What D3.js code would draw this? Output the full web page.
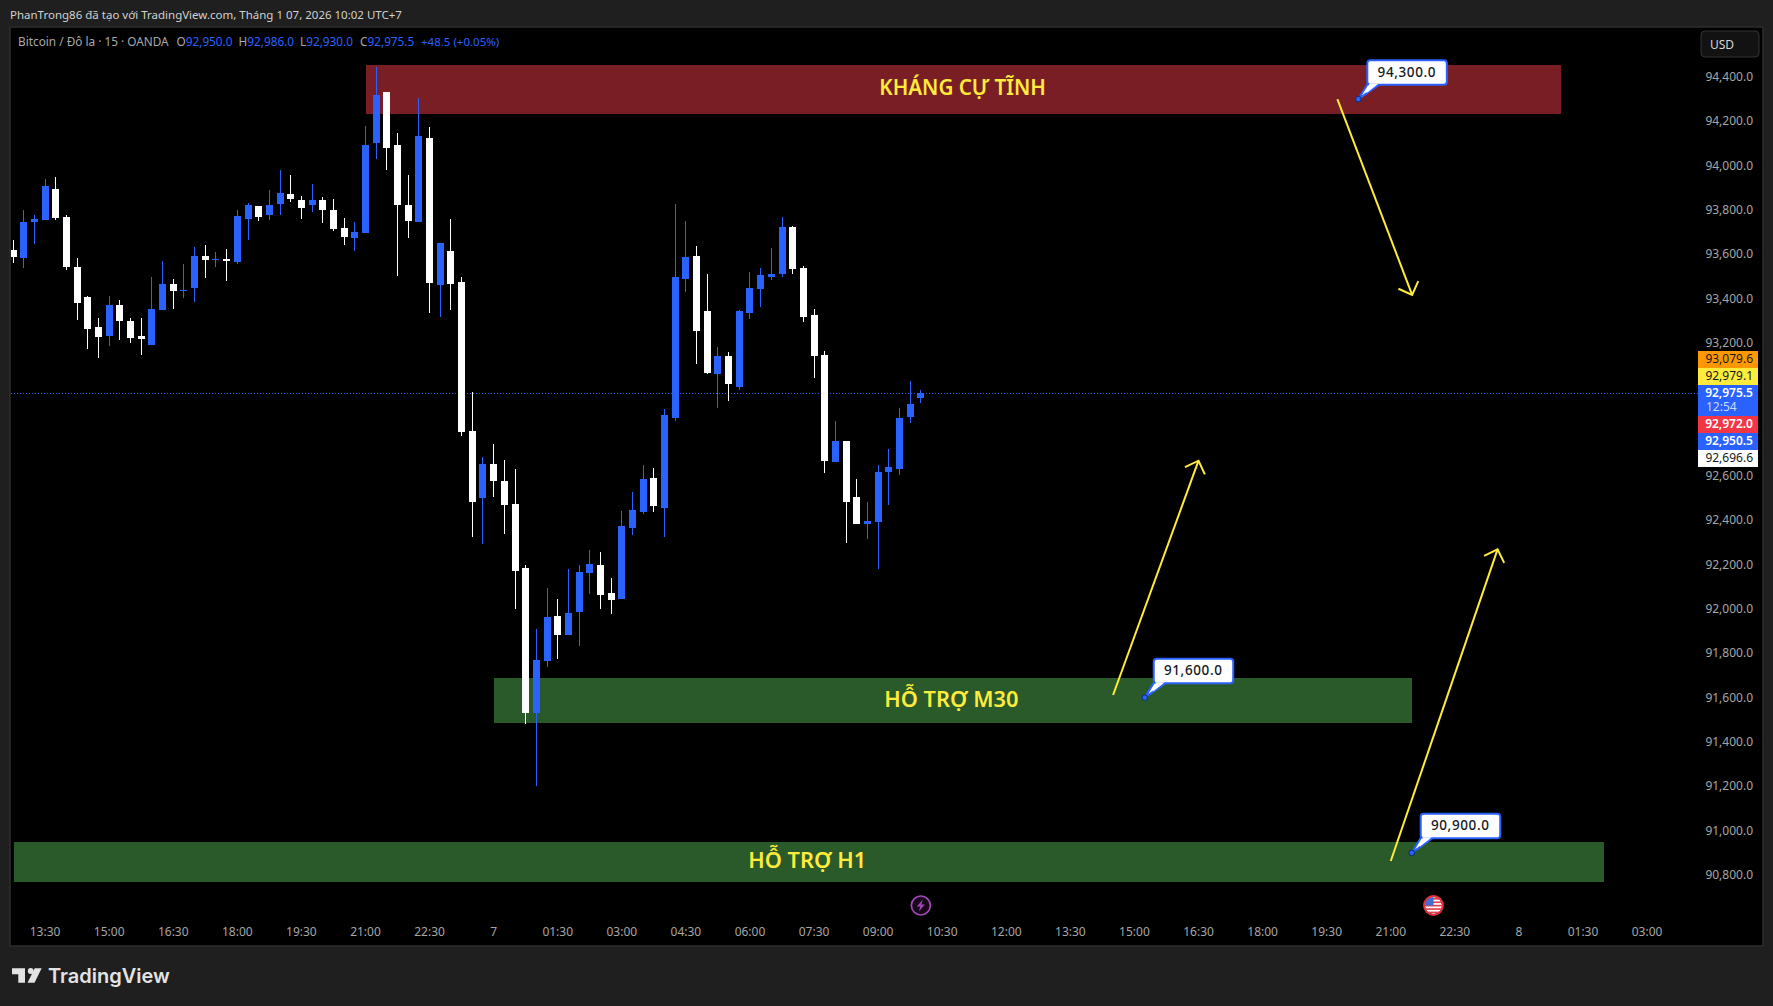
<!DOCTYPE html>
<html>
<head>
<meta charset="utf-8">
<title>Bitcoin / Đô la</title>
<script src="https://cdn.jsdelivr.net/npm/d3@7"></script>
<style>
  html, body { margin: 0; padding: 0; background: #1f1f1f; }
  svg { display: block; }
  text { font-family: "Noto Sans", sans-serif; }
</style>
</head>
<body>
<div id="graphs"></div>
<script>
// 15 minute candles, from 12:45 (index 0) to 10:00 next day (index 85)
var opens = [93620,93583,93746,93755,93895,93769,93543,93408,93272,93232,93372,93299,93232,93191,93349,93466,93435,93448,93593,93576,
  93579,93565,93759,93818,93778,93827,93872,93845,93823,93845,93800,93719,93674,93696,94102,94332,94093,93823,93746,94125,
  93462,93615,93475,92803,92501,92654,92578,92474,92185,91531,91766,91968,91883,91987,92162,92199,92072,92045,92365,92438,
  92591,92456,92862,93489,93593,93344,93060,93141,93002,93335,93444,93498,93511,93723,93538,93326,93146,92663,92758,92505,
  92384,92393,92618,92632,92866,92950];
var highs = [93665,93800,93778,93940,93949,93778,93583,93412,93313,93412,93394,93313,93313,93498,93570,93489,93556,93633,93642,93611,
  93624,93800,93832,93818,93890,93980,93958,93863,93917,93859,93850,93764,93746,94179,94445,94332,94147,93958,94305,94174,
  93651,93759,93498,92980,92686,92744,92672,92632,92199,91910,92095,92045,92180,92199,92266,92257,92140,92442,92528,92650,
  92636,92902,93827,93750,93638,93511,93182,93160,93349,93520,93538,93629,93769,93728,93548,93353,93164,92848,92758,92587,
  92483,92650,92722,92907,93029,92986];
var lows = [93561,93538,93647,93755,93755,93529,93304,93173,93132,93187,93214,93200,93146,93191,93349,93353,93403,93385,93493,93543,
  93480,93556,93665,93750,93755,93778,93836,93759,93791,93741,93705,93642,93615,93696,94030,93980,93502,93674,93746,93335,
  93317,93349,92780,92325,92293,92505,92338,92000,91481,91202,91738,91774,91883,91833,92068,92000,91978,92045,92334,92429,
  92438,92325,92848,93430,93105,93060,92907,92938,92988,93308,93362,93484,93498,93511,93295,93042,92614,92663,92298,92384,
  92316,92181,92469,92605,92839,92930];
var closes = [93588,93746,93759,93908,93764,93543,93381,93263,93227,93372,93299,93223,93218,93353,93466,93435,93439,93593,93575,93579,
  93570,93773,93823,93769,93823,93877,93850,93809,93845,93800,93714,93678,93701,94093,94319,94080,93823,93750,94134,93471,
  93651,93466,92799,92483,92654,92578,92469,92171,91531,91770,91964,91883,91982,92167,92203,92063,92041,92375,92447,92587,
  92465,92875,93498,93588,93254,93065,93141,93015,93344,93448,93507,93511,93723,93534,93317,93141,92668,92758,92483,92384,
  92397,92618,92641,92862,92925,92975.5];

var priceTicks = [94400,94200,94000,93800,93600,93400,93200,92600,92400,92200,92000,91800,91600,91400,91200,91000,90800];
var timeTickBars = [3,9,15,21,27,33,39,45,51,57,63,69,75,81,87,93,99,105,111,117,123,129,135,141,147,153];
var timeTickLabels = ["13:30","15:00","16:30","18:00","19:30","21:00","22:30","7","01:30","03:00","04:30","06:00","07:30",
  "09:00","10:30","12:00","13:30","15:00","16:30","18:00","19:30","21:00","22:30","8","01:30","03:00"];

// zones: label, first bar, last bar, top price, bottom price
var zoneLabels = ["KHÁNG CỰ TĨNH","HỖ TRỢ M30","HỖ TRỢ H1"];
var zoneBars = [[33,145],[45,131],[0,149]];
var zonePrices = [[94454,94233],[91689,91486],[90949,90769]];

var noteBars = [126,106,131];
var notePrices = [94300,91600,90900];

// arrows: [bar, price] start and tip
var arrowStarts = [[124,94300],[103,91612],[129,90863]];
var arrowTips = [[131,93417],[111,92669],[139,92269]];

var tagLabels = ["93,079.6","92,979.1","92,975.5","92,972.0","92,950.5","92,696.6"];
var lastPrice = 92975.5;

var width = 1773, height = 1006;
var blue = "#2962ff", yellow = "#ffeb3b";

var x = d3.scaleLinear().domain([0,1]).range([13.05,23.73]);
var y = d3.scaleLinear().domain([94400,90800]).range([77,875]);

var svg = d3.select("#graphs").append("svg")
  .attr("width", width).attr("height", height);

svg.append("rect").attr("width", width).attr("height", height).attr("fill", "#1f1f1f");

// chart frame
svg.append("rect")
  .attr("x", 10).attr("y", 27).attr("width", 1753).attr("height", 919)
  .attr("fill", "#000").attr("stroke", "#2e2e2e").attr("stroke-width", 1.5);

svg.append("defs").append("clipPath").attr("id", "pane")
  .append("rect").attr("x", 11).attr("y", 28).attr("width", 1751).attr("height", 917);

var pane = svg.append("g").attr("clip-path", "url(#pane)");

// zones
var zones = pane.selectAll(".zone").data(zoneLabels).enter().append("g").attr("class", "zone");
zones.append("rect")
  .attr("x", (d, i) => Math.floor(x(zoneBars[i][0])) + 1)
  .attr("y", (d, i) => Math.round(y(zonePrices[i][0])))
  .attr("width", (d, i) => Math.floor(x(zoneBars[i][1])) - Math.floor(x(zoneBars[i][0])) - 1)
  .attr("height", (d, i) => Math.round(y(zonePrices[i][1])) - Math.round(y(zonePrices[i][0])))
  .attr("fill", (d, i) => i == 0 ? "#7a1e26" : "#2a5a2a");

// current price line
pane.append("line")
  .attr("x1", 11).attr("x2", 1698)
  .attr("y1", Math.round(y(lastPrice)) + 0.5).attr("y2", Math.round(y(lastPrice)) + 0.5)
  .attr("stroke", blue).attr("stroke-width", 1).attr("stroke-dasharray", "1 2");

// candles
var candles = pane.selectAll(".candle").data(opens).enter().append("g").attr("class", "candle")
  .attr("fill", (d, i) => closes[i] >= opens[i] ? blue : "#fff");
candles.append("rect")
  .attr("x", (d, i) => Math.floor(x(i)))
  .attr("width", 1)
  .attr("y", (d, i) => Math.round(y(highs[i])))
  .attr("height", (d, i) => Math.round(y(lows[i])) - Math.round(y(highs[i])));
candles.append("rect")
  .attr("x", (d, i) => Math.floor(x(i)) - 3)
  .attr("width", 7)
  .attr("y", (d, i) => Math.round(y(Math.max(opens[i], closes[i]))))
  .attr("height", (d, i) => Math.max(1, Math.round(y(Math.min(opens[i], closes[i]))) - Math.round(y(Math.max(opens[i], closes[i])))));

// zone titles above the candles
var zoneFontSizes = [20.6, 21.8, 21.8];
zones.append("text")
  .attr("x", (d, i) => (x(zoneBars[i][0]) + x(zoneBars[i][1])) / 2 - (i == 0 ? 1 : 1.5))
  .attr("y", (d, i) => (y(zonePrices[i][0]) + y(zonePrices[i][1])) / 2 + (i == 0 ? 5.5 : 6.5))
  .attr("text-anchor", "middle")
  .attr("fill", yellow)
  .style("font-size", (d, i) => zoneFontSizes[i] + "px").style("font-weight", 600)
  .text(d => d);

// arrows
arrowStarts.forEach(function (s, i) {
  var t = arrowTips[i];
  var x0 = x(s[0]), y0 = y(s[1]), x1 = x(t[0]), y1 = y(t[1]);
  var ang = Math.atan2(y0 - y1, x0 - x1), len = 15;
  var head = [ang - Math.PI / 4, ang + Math.PI / 4].map(a => [x1 + len * Math.cos(a), y1 + len * Math.sin(a)]);
  var g = pane.append("g").attr("fill", "none").attr("stroke", yellow).attr("stroke-width", 2);
  g.append("path").attr("d", d3.line()([[x0, y0], [x1, y1]]));
  g.append("path").attr("d", d3.line()([head[0], [x1, y1], head[1]]));
});

// price notes
var notes = pane.selectAll(".note").data(notePrices).enter().append("g").attr("class", "note")
  .attr("transform", (d, i) => "translate(" + (x(noteBars[i]) - 0.4) + "," + y(d) + ")");
notes.append("path")
  .attr("d", "M0,0L9.5,-15.5L22,-15.5Z").attr("fill", "#fff").attr("stroke", blue).attr("stroke-width", 2);
notes.append("rect")
  .attr("x", 9).attr("y", -39).attr("width", 79.5).attr("height", 24.5).attr("rx", 3)
  .attr("fill", "#fff").attr("stroke", blue).attr("stroke-width", 2);
notes.append("path").attr("d", "M11,-15.5L20,-15.5L8,-6Z").attr("fill", "#fff");
notes.append("circle").attr("r", 2.8).attr("fill", blue).attr("stroke", "#0c2a66").attr("stroke-width", 1);
notes.append("text")
  .attr("x", 48.5).attr("y", -22.5).attr("text-anchor", "middle")
  .attr("fill", "#131722").style("font-size", "13.5px").style("font-weight", 500).style("letter-spacing", "0.6px")
  .text(d => d3.format(",.1f")(d));

// event icons
var bolt = pane.append("g").attr("transform", "translate(" + x(85) + ",905.5)");
bolt.append("circle").attr("r", 9.5).attr("fill", "#16081a").attr("stroke", "#a347b8").attr("stroke-width", 1.7);
bolt.append("path").attr("d", "M2,-6L-4,1L-0.5,1L-2,6L4,-1L0.5,-1Z").attr("fill", "#a347b8");

svg.select("defs").append("clipPath").attr("id", "flagclip").append("circle").attr("r", 8.5);
var flag = pane.append("g").attr("transform", "translate(" + x(133) + ",905.5)");
var flagIn = flag.append("g").attr("clip-path", "url(#flagclip)");
flagIn.append("rect").attr("x", -10).attr("y", -10).attr("width", 20).attr("height", 20).attr("fill", "#fff");
d3.range(5).forEach(function (k) {
  flagIn.append("rect").attr("x", -10).attr("y", -7.5 + k * 3.4).attr("width", 20).attr("height", 1.7).attr("fill", "#e8404f");
});
flagIn.append("rect").attr("x", -10).attr("y", -10).attr("width", 10).attr("height", 10).attr("fill", "#3d6fd8");
flag.append("circle").attr("r", 9.5).attr("fill", "none").attr("stroke", "#e8303f").attr("stroke-width", 1.8);

// axes
var axisColor = "#a6a6a6";
var yAxis = d3.axisRight(y).tickValues(priceTicks).tickSize(0).offset(0).tickFormat(d3.format(",.1f"));
var gy = svg.append("g").attr("transform", "translate(1753,0)").call(yAxis);
gy.select(".domain").remove();
gy.selectAll("text").attr("x", 0).attr("text-anchor", "end").attr("fill", axisColor)
  .style("font-size", "12px").style("font-family", "'Noto Sans'");

var xAxis = d3.axisBottom(x).tickValues(timeTickBars).tickSize(0).offset(0).tickFormat((d, i) => timeTickLabels[i]);
var gx = svg.append("g").attr("transform", "translate(0,927)").call(xAxis);
gx.select(".domain").remove();
gx.selectAll("text").attr("y", 0).attr("dy", "0.78em").attr("fill", axisColor)
  .style("font-size", "12px").style("font-family", "'Noto Sans'");

// USD button
svg.append("rect")
  .attr("x", 1701).attr("y", 31).attr("width", 58).attr("height", 26).attr("rx", 4)
  .attr("fill", "#121212").attr("stroke", "#333");
svg.append("text").attr("x", 1710).attr("y", 49).attr("fill", "#d8d8d8").style("font-size", "12px").text("USD");

// price tags on the scale
var tagFills = ["#ff9800", yellow, blue, "#f23645", blue, "#fff"];
var tagInks = ["#131722", "#131722", "#fff", "#fff", "#fff", "#131722"];
var tagWeights = [400, 400, 600, 600, 600, 400];
var tagTops = [351, 368, 385, 416, 433, 450];
var tagHeights = [17, 17, 31, 17, 17, 17];
tagLabels.forEach(function (t, i) {
  svg.append("rect").attr("x", 1698).attr("y", tagTops[i]).attr("width", 60).attr("height", tagHeights[i]).attr("fill", tagFills[i]);
  svg.append("text").attr("x", 1753).attr("y", tagTops[i] + 12).attr("text-anchor", "end")
    .attr("fill", tagInks[i]).style("font-size", "12px").style("font-weight", tagWeights[i]).text(t);
});
svg.append("text").attr("x", 1706).attr("y", 411).attr("fill", "#c9d8ff").style("font-size", "12px").text("12:54");

// header texts
svg.append("text").attr("x", 10).attr("y", 19).attr("fill", "#d1d1d1").style("font-size", "11.5px")
  .text("PhanTrong86 đã tạo với TradingView.com, Tháng 1 07, 2026 10:02 UTC+7");

var legendGray = "#a8a8a8";
svg.append("text").attr("x", 18).attr("y", 46).attr("fill", legendGray).style("font-size", "11.8px")
  .text("Bitcoin / Đô la · 15 · OANDA");
var ohlcNames = ["O","H","L","C"];
var ohlcValues = ["92,950.0","92,986.0","92,930.0","92,975.5"];
var ohlcX = [176.5,238.5,300,360];
ohlcNames.forEach(function (n, i) {
  var t = svg.append("text").attr("x", ohlcX[i]).attr("y", 46).attr("fill", legendGray).style("font-size", "11.8px");
  t.append("tspan").text(n);
  t.append("tspan").attr("fill", blue).text(ohlcValues[i]);
});
svg.append("text").attr("x", 421).attr("y", 46).attr("fill", blue).style("font-size", "11.5px").text("+48.5 (+0.05%)");

// TradingView logo
var logo = svg.append("g").attr("fill", "#e3e3e3");
logo.append("path").attr("d", "M12,968.3H25V982.7H18.3V974.3H12Z");
logo.append("circle").attr("cx", 30.7).attr("cy", 971).attr("r", 2.9);
logo.append("path").attr("d", "M34.7,968.3H41.7L34.5,982.7H27.5Z");
svg.append("text").attr("x", 48).attr("y", 983).attr("fill", "#e3e3e3")
  .style("font-size", "20px").style("font-weight", 600).style("font-family", "'Inter'").text("TradingView");
</script>
</body>
</html>
